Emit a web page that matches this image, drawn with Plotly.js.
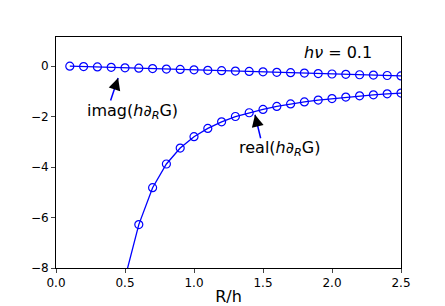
<!DOCTYPE html>
<html><head><meta charset="utf-8">
<script src="https://cdn.plot.ly/plotly-3.0.1.min.js"></script>
<style>html,body{margin:0;padding:0;background:#fff}</style>
</head><body><div id="c" style="width:445px;height:306px"></div>
<script>
const rImag = [0.1,0.2,0.3,0.4,0.5,0.6,0.7,0.8,0.9,1.0,1.1,1.2,1.3,1.4,1.5,1.6,1.7,1.8,1.9,2.0,2.1,2.2,2.3,2.4,2.5];
const imagVals = [-0.005,-0.02,-0.035,-0.05,-0.07,-0.085,-0.10,-0.12,-0.135,-0.15,-0.17,-0.185,-0.20,-0.215,-0.23,-0.25,-0.265,-0.28,-0.30,-0.315,-0.33,-0.345,-0.36,-0.375,-0.39];
const rReal = [0.5,0.6,0.7,0.8,0.9,1.0,1.1,1.2,1.3,1.4,1.5,1.6,1.7,1.8,1.9,2.0,2.1,2.2,2.3,2.4,2.5];
const realVals = [-8.4,-6.28,-4.82,-3.88,-3.25,-2.8,-2.47,-2.21,-2.0,-1.85,-1.72,-1.6,-1.5,-1.42,-1.35,-1.29,-1.23,-1.18,-1.14,-1.1,-1.07];
const xTicks = [0,0.5,1.0,1.5,2.0,2.5];
const xTickText = ['0.0','0.5','1.0','1.5','2.0','2.5'];
const yTicks = [0,-2,-4,-6,-8];

const mk = {symbol:'circle-open', size:8, color:'#0000ff', line:{width:1.2, color:'#0000ff'}};
const traces = [
  {x:rImag, y:imagVals, mode:'lines+markers', line:{color:'#0000ff', width:1.3}, marker:mk},
  {x:rReal, y:realVals, mode:'lines+markers', line:{color:'#0000ff', width:1.3}, marker:mk}
];
const F = 'DejaVu Sans, sans-serif';
const layout = {
  width:445, height:306,
  margin:{l:56, r:44, t:37, b:38},
  paper_bgcolor:'#fff', plot_bgcolor:'#fff',
  showlegend:false,
  font:{family:F, size:12, color:'#000'},
  xaxis:{range:[0,2.5], tickvals:xTicks, ticktext:xTickText, ticks:'outside', ticklen:4, tickwidth:1,
    tickfont:{family:F, size:12},
    showgrid:false, zeroline:false, showline:true, mirror:true, linecolor:'#000', linewidth:1,
    title:{text:'R/h', font:{family:F, size:16}, standoff:2}},
  yaxis:{range:[-8,1.15], tickvals:yTicks, ticks:'outside', ticklen:4, tickwidth:1,
    tickfont:{family:F, size:12},
    showgrid:false, zeroline:false, showline:true, mirror:true, linecolor:'#000', linewidth:1},
  annotations:[
    {x:0.45, y:-0.47, xref:'x', yref:'y', text:'', showarrow:true, ax:-8, ay:24, arrowhead:0, arrowwidth:1.5, arrowcolor:'#0000ff', standoff:0},
    {x:0.45, y:-0.47, xref:'x', yref:'y', text:'', showarrow:true, ax:-3.5, ay:11, arrowhead:2, arrowsize:2, arrowwidth:1.2, arrowcolor:'#000', standoff:0},
    {x:0.551, y:-1.81, xref:'x', yref:'y', text:'imag(<i>h</i>∂<sub><i>R</i></sub>G)', showarrow:false, font:{family:F, size:16}},
    {x:1.442, y:-1.93, xref:'x', yref:'y', text:'', showarrow:true, ax:6, ay:25, arrowhead:0, arrowwidth:1.5, arrowcolor:'#0000ff', standoff:0},
    {x:1.442, y:-1.93, xref:'x', yref:'y', text:'', showarrow:true, ax:2.6, ay:11, arrowhead:2, arrowsize:2, arrowwidth:1.2, arrowcolor:'#000', standoff:0},
    {x:1.616, y:-3.27, xref:'x', yref:'y', text:'real(<i>h</i>∂<sub><i>R</i></sub>G)', showarrow:false, font:{family:F, size:16}},
    {x:2.043, y:0.55, xref:'x', yref:'y', text:'<i>hν</i> = 0.1', showarrow:false, font:{family:F, size:16}}
  ]
};
Plotly.newPlot('c', traces, layout, {displayModeBar:false, staticPlot:true});
</script></body></html>
